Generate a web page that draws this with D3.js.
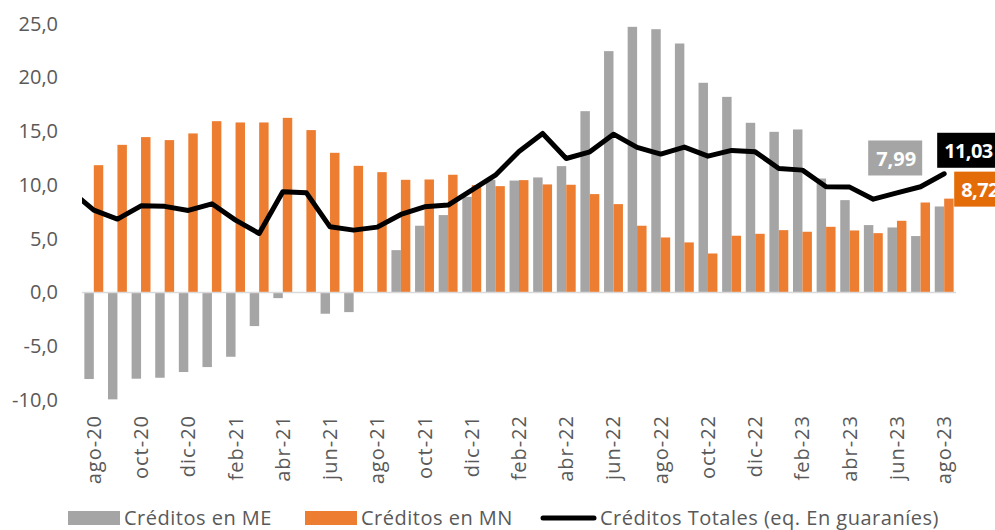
<!DOCTYPE html>
<html>
<head>
<meta charset="utf-8">
<script src="https://cdn.jsdelivr.net/npm/d3@7"></script>
<style>
    body { margin: 0; background: #fff; }
    text { font-family: "Open Sans", sans-serif; }
</style>
</head>
<body>
<svg id="chart" width="995" height="530"></svg>
<script>
/**
 * Data (year-on-year growth, %).
 */
const months = ['ago-20', 'sep-20', 'oct-20', 'nov-20', 'dic-20', 'ene-21', 'feb-21', 'mar-21', 'abr-21',
    'may-21', 'jun-21', 'jul-21', 'ago-21', 'sep-21', 'oct-21', 'nov-21', 'dic-21', 'ene-22', 'feb-22',
    'mar-22', 'abr-22', 'may-22', 'jun-22', 'jul-22', 'ago-22', 'sep-22', 'oct-22', 'nov-22', 'dic-22',
    'ene-23', 'feb-23', 'mar-23', 'abr-23', 'may-23', 'jun-23', 'jul-23', 'ago-23'];

const creditosME = [-8.05, -9.94, -8.02, -7.93, -7.40, -6.94, -5.98, -3.13, -0.53, 0, -1.98, -1.83, 0,
    3.93, 6.20, 7.19, 8.89, 10.47, 10.40, 10.69, 11.74, 16.85, 22.43, 24.69, 24.47, 23.14, 19.49, 18.18,
    15.77, 14.93, 15.15, 10.59, 8.58, 6.26, 6.04, 5.24, 7.99];

const creditosMN = [11.83, 13.72, 14.44, 14.16, 14.78, 15.92, 15.80, 15.80, 16.23, 15.09, 12.98, 11.77,
    11.18, 10.47, 10.50, 10.94, 9.98, 9.88, 10.44, 10.04, 10.01, 9.14, 8.21, 6.20, 5.11, 4.65, 3.62, 5.27,
    5.45, 5.79, 5.64, 6.10, 5.76, 5.51, 6.66, 8.36, 8.72];

const creditosTotales = [7.65, 6.82, 8.05, 8.00, 7.62, 8.24, 6.72, 5.48, 9.36, 9.26, 6.10, 5.79, 6.07,
    7.25, 7.96, 8.12, 9.51, 10.90, 13.10, 14.78, 12.45, 13.07, 14.71, 13.48, 12.86, 13.51, 12.67, 13.20,
    13.07, 11.52, 11.37, 9.82, 9.79, 8.67, 9.26, 9.82, 11.03];

// jul-20: outside the axis, only visible as the line entering from the left edge
const totalPrevMonth = 9.5;

const yTicks = [-10, -5, 0, 5, 10, 15, 20, 25];
const seriesNames = ['Créditos en ME', 'Créditos en MN', 'Créditos Totales (eq. En guaraníes)'];

/**
 * Visual configs.
 */
const plot = { left: 82, right: 956, top: 23.5, bottom: 400 },
    colorME = '#a5a5a5',
    colorMN = '#ed7d31',
    colorMNLabel = '#e36c09',
    textColor = '#595959';

const svg = d3.select('#chart');

/**
 * Scales.
 */
const x = d3.scaleBand().domain(months).range([plot.left, plot.right]);
const xInner = d3.scaleBand().domain(['ME', 'MN']).range([0, x.bandwidth()]).paddingOuter(0.25);
const y = d3.scaleLinear().domain([-10, 25]).range([plot.bottom, plot.top]);
const cx = m => x(m) + x.bandwidth() / 2;

const fmt = v => d3.format('.1f')(v).replace('.', ',').replace('−', '-');
const fmt2 = v => d3.format('.2f')(v).replace('.', ',');

// Y labels (no axis line, no grid)
svg.append('g').attr('class', 'y-labels')
    .selectAll('text').data(yTicks).join('text')
        .attr('x', 58)
        .attr('y', d => y(d))
        .attr('dy', '0.35em')
        .attr('text-anchor', 'end')
        .style('font-size', '20px')
        .style('fill', textColor)
        .text(fmt);

// Bars
const bars = svg.append('g').attr('class', 'bars');
bars.selectAll('.me').data(months).join('rect').attr('class', 'me')
    .attr('x', d => x(d) + xInner('ME'))
    .attr('width', xInner.bandwidth())
    .attr('y', (d, i) => y(Math.max(0, creditosME[i])))
    .attr('height', (d, i) => Math.abs(y(creditosME[i]) - y(0)))
    .style('fill', colorME);
bars.selectAll('.mn').data(months).join('rect').attr('class', 'mn')
    .attr('x', d => x(d) + xInner('MN'))
    .attr('width', xInner.bandwidth())
    .attr('y', (d, i) => y(Math.max(0, creditosMN[i])))
    .attr('height', (d, i) => Math.abs(y(creditosMN[i]) - y(0)))
    .style('fill', colorMN);

// Zero line
svg.append('line')
    .attr('x1', plot.left).attr('x2', plot.right)
    .attr('y1', y(0)).attr('y2', y(0))
    .style('stroke', '#d9d9d9').style('stroke-width', 1.5);

// X labels, every second month, rotated
svg.append('g').attr('class', 'x-labels')
    .selectAll('text').data(months.filter((d, i) => i % 2 === 0)).join('text')
        .attr('transform', d => 'translate(' + (cx(d) + 7) + ',415) rotate(-90)')
        .attr('text-anchor', 'end')
        .style('font-size', '20px')
        .style('letter-spacing', '1px')
        .style('fill', textColor)
        .text(d => d);

// Total line, clipped to the plot so the previous month only enters from the edge
svg.append('clipPath').attr('id', 'plot-clip')
    .append('rect')
        .attr('x', plot.left).attr('y', 0)
        .attr('width', plot.right - plot.left + 20).attr('height', 530);

const linePoints = [[cx(months[0]) - x.step(), totalPrevMonth]]
    .concat(months.map((m, i) => [cx(m), creditosTotales[i]]));

svg.append('path')
    .attr('clip-path', 'url(#plot-clip)')
    .attr('d', d3.line().x(d => d[0]).y(d => y(d[1]))(linePoints))
    .style('fill', 'none')
    .style('stroke', '#000')
    .style('stroke-width', 5)
    .style('stroke-linejoin', 'round')
    .style('stroke-linecap', 'round');

// Labels on the last month
const last = months.length - 1,
    lx = cx(months[last]);
const labels = [
    { value: creditosME[last], fill: colorME, x: lx - 76, y: y(creditosME[last]) - 66 },
    { value: creditosTotales[last], fill: '#000', x: lx - 7, y: y(creditosTotales[last]) - 41 },
    { value: creditosMN[last], fill: colorMNLabel, x: lx + 10, y: y(creditosMN[last]) - 27 }
];
const lbl = svg.append('g').attr('class', 'value-labels')
    .selectAll('g').data(labels).join('g')
        .attr('transform', d => 'translate(' + d.x + ',' + d.y + ')');
lbl.append('rect')
    .attr('width', d => d.fill === colorME ? 54 : 70)
    .attr('height', 35)
    .style('fill', d => d.fill);
lbl.append('text')
    .attr('x', d => d.fill === colorME ? 8 : 7)
    .attr('y', 18)
    .attr('dy', '0.36em')
    .style('font-size', '20px')
    .style('font-weight', 'bold')
    .style('letter-spacing', d => d.fill === colorME ? '0px' : '-0.6px')
    .style('fill', '#fff')
    .text(d => fmt2(d.value));

// Legend
const legend = svg.append('g').attr('class', 'legend');
const legendItems = [
    { name: seriesNames[0], x: 68, type: 'rect', color: colorME },
    { name: seriesNames[1], x: 305, type: 'rect', color: colorMN },
    { name: seriesNames[2], x: 541, type: 'line', color: '#000' }
];
legendItems.forEach(d => {
    if (d.type === 'rect') {
        legend.append('rect').attr('x', d.x).attr('y', 511).attr('width', 52).attr('height', 14)
            .style('fill', d.color);
    } else {
        legend.append('line').attr('x1', d.x + 2).attr('x2', d.x + 53).attr('y1', 518).attr('y2', 518)
            .style('stroke', d.color).style('stroke-width', 5).style('stroke-linecap', 'round');
    }
    legend.append('text')
        .attr('x', d.x + (d.type === 'rect' ? 56 : 59))
        .attr('y', 518)
        .attr('dy', '0.35em')
        .style('font-size', '20px')
        .style('letter-spacing', '0.5px')
        .style('fill', textColor)
        .text(d.name);
});
</script>
</body>
</html>
